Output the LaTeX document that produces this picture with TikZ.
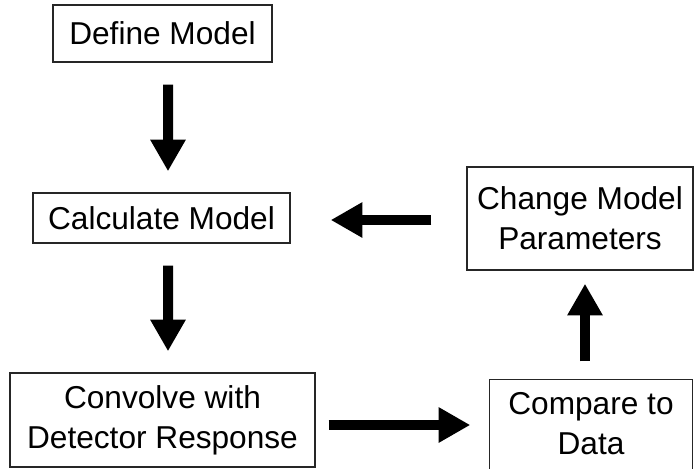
\documentclass[tikz,border=0pt]{standalone}
\usepackage{fontspec}
\setmainfont{Liberation Sans}
\usetikzlibrary{arrows.meta}
\begin{document}
\begin{tikzpicture}[
    x=0.03cm, y=-0.03cm,
    box/.style={rectangle, draw=black!85, line width=1.2pt, inner sep=0pt, align=center, font=\fontsize{27}{34}\selectfont},
    arrow/.style={-{Triangle[length=0.95cm, width=1.0cm]}, line width=0.3cm, black}
]
\useasboundingbox (0,0) rectangle (700,469);
\clip (0,0) rectangle (700,469);

% Model steps
\node[box, minimum width=6.57cm, minimum height=1.71cm] (define) at (162.5,33.5) {Define Model};
\node[box, minimum width=7.71cm, minimum height=1.5cm] (calc) at (161.5,218) {Calculate Model};
\node[box, minimum width=9.15cm, minimum height=2.82cm] (convolve) at (162.5,420) {Convolve with\\Detector Response};

% Fit loop
\node[box, minimum width=6.78cm, minimum height=3.09cm] (change) at (580,218.5) {Change Model\\Parameters};
\node[box, draw=none, minimum width=6.06cm, minimum height=2.64cm] (compare) at (591,424) {Compare to\\Data};
\draw[black!85, line width=1.2pt] (compare.south west) -- (compare.north west) -- (compare.north east) -- (compare.south east);

% Arrows
\draw[arrow] ([xshift=0.165cm,yshift=-0.66cm]define.south) -- ([xshift=0.195cm,yshift=0.63cm]calc.north);
\draw[arrow] ([xshift=0.195cm,yshift=-0.66cm]calc.south) -- ([xshift=0.165cm,yshift=0.63cm]convolve.north);
\draw[arrow] ([xshift=0.39cm,yshift=-0.15cm]convolve.east) -- ([xshift=-0.57cm,yshift=-0.03cm]compare.west);
\draw[arrow] ([xshift=-0.18cm,yshift=0.54cm]compare.north) -- ([xshift=0.15cm,yshift=-0.39cm]change.south);
\draw[arrow] ([xshift=-1.05cm,yshift=-0.045cm]change.west) -- ([xshift=1.2cm,yshift=-0.06cm]calc.east);

\end{tikzpicture}
\end{document}
